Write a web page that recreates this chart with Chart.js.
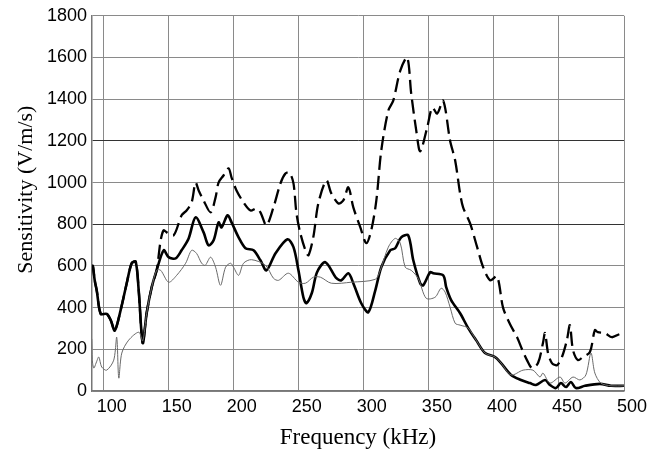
<!DOCTYPE html>
<html>
<head>
<meta charset="utf-8">
<script src="https://cdn.jsdelivr.net/npm/chart.js@4/dist/chart.umd.min.js"></script>
<style>
html,body{margin:0;padding:0;background:#fff;}
#wrap{width:647px;height:455px;}
</style>
</head>
<body>
<div id="wrap"><canvas id="c" width="647" height="455"></canvas></div>
<script>
// Tick labels
const xTicks = [100,150,200,250,300,350,400,450,500];
const yTicks = [0,200,400,600,800,1000,1200,1400,1600,1800];

// Thick solid series
const thickFreq = [90.8,91.6,93.1,94.7,97.7,102.3,105.4,108.5,113.1,117.7,121.5,124.6,126.9,130.0,133.0,136.9,140.7,146.1,149.9,155.3,159.9,165.3,170.6,176.8,180.6,184.5,188.3,190.6,195.2,198.3,203.7,209.0,215.2,220.5,225.1,232.0,241.3,245.9,249.7,253.5,255.8,260,264,270.4,278.9,282.7,288.1,291.9,298.0,303.4,308.8,313.4,320.3,324.1,328.7,334.1,338.0,343.3,345.6,351.0,353.3,361.0,363.3,367.1,374.0,380.2,386.3,393.2,400.9,405.5,413.2,420.8,427.7,432.3,439.3,443.1,447.7,451.5,455.4,459.2,463.0,470,481.5,490,500];
const thickVal = [580,600,530,480,370,370,340,290,390,517,613,620,483,230,373,498,579,675,642,636,675,732,833,761,699,723,809,785,843,809,737,685,675,627,579,660,728,690,579,450,421,470,570,618,541,531,565,517,421,378,483,594,675,685,737,747,627,517,507,570,565,555,498,436,373,302,244,182,163,134,77,53,38,29,53,29,14,38,19,43,14,25,34,25,25];

// Thin solid series
const thinFreq = [90.8,91.2,92.4,94.5,96.2,98.5,102.3,107.7,110.0,111.6,113.9,119.2,127.0,130.0,133.0,136.9,140.7,143.8,149.9,156.1,163.0,167.6,171.4,175.3,178,182.2,186.0,189.8,193.7,197.5,199.8,203.7,207.5,213.6,224.4,230.5,234.4,242.0,249.7,255.1,261.2,266.6,275.0,290.4,308.8,312.6,318.8,324.1,328.0,331.8,336.4,341.8,347.9,354.8,359.4,362.5,366.3,370.2,374.0,380.2,386.3,393.2,400.9,405.5,413.2,422.4,430.0,435.4,437.7,443.1,450.8,454.6,460.8,466.1,470.7,474.6,477.6,482.2,490,500];
const thinVal = [250,150,110,140,163,115,100,148,258,62,182,244,282,240,373,498,579,579,522,555,613,675,660,613,603,642,594,507,594,613,594,555,613,630,603,541,531,565,522,517,546,546,517,522,536,579,690,732,709,594,579,540,445,450,493,474,402,325,316,302,244,182,163,134,77,100,100,67,86,38,67,38,67,53,77,182,86,38,25,25];

// Dashed series
const dashFreq = [90.8,91.6,93.1,94.7,97.7,102.3,105.4,108.5,113.1,117.7,121.5,124.6,126.9,130.0,133.0,136.9,140.7,143.8,146.1,148.4,153.8,159.9,163.7,167.6,170.6,173.0,176.8,182.2,186.0,188.3,192.1,196.0,198.3,202.1,207.5,212.9,217.5,220.5,225.1,230.5,235.9,239.7,242.8,245.9,248.2,251.2,255.1,257.4,261.2,265.0,271.2,275.0,280.4,284.2,288.1,291.9,297.3,301.9,305.7,309.6,313.4,318.8,322.6,328.0,333.3,336.4,340.3,343.3,348.7,352.6,356.4,361.0,366.3,370.2,374.0,376.3,381.7,387.1,391.7,397.1,402.4,407.0,412.4,417.8,421.6,425.4,429.3,433.9,437.7,439.3,441.6,444.6,448.5,452.3,456.1,458.4,460.8,464.6,468.4,473.8,477.6,479.9,485.3,490.7,496.8,500];
const dashVal = [580,600,530,480,370,370,340,290,390,517,613,620,483,230,373,498,579,723,771,761,747,843,866,905,1000,962,914,857,929,1000,1034,1068,1024,962,905,866,876,857,795,881,996,1043,1048,996,852,756,675,651,740,900,1010,948,900,914,977,881,785,709,771,914,1154,1345,1393,1537,1600,1427,1249,1150,1264,1360,1331,1393,1201,1106,948,881,804,690,594,531,550,400,320,258,200,148,110,134,230,278,182,134,124,163,244,316,196,148,163,187,292,282,278,258,273,270];

const pts = (xs, ys) => xs.map((x, i) => ({x: x, y: ys[i]}));

const ctx = document.getElementById('c').getContext('2d');
new Chart(ctx, {
  type: 'line',
  data: {
    datasets: [
      {label: 'thin', data: pts(thinFreq, thinVal), borderColor: '#6a6a6a', borderWidth: 1, pointRadius: 0, tension: 0.3, fill: false},
      {label: 'dashed', data: pts(dashFreq, dashVal), borderColor: '#000', borderWidth: 2.3, borderDash: [14, 6], pointRadius: 0, tension: 0.3, fill: false},
      {label: 'thick', data: pts(thickFreq, thickVal), borderColor: '#000', borderWidth: 2.6, pointRadius: 0, tension: 0.3, fill: false}
    ]
  },
  options: {
    responsive: false,
    animation: false,
    layout: {padding: {left: 0, right: 23, top: 15, bottom: 0}},
    plugins: {legend: {display: false}, tooltip: {enabled: false}},
    scales: {
      x: {
        type: 'linear', min: 91, max: 500,
        afterBuildTicks: s => { s.ticks = xTicks.map(v => ({value: v})); },
        afterFit: s => { s.height = 64; },
        grid: {color: '#8a8a8a', lineWidth: 1, drawTicks: false},
        border: {color: '#777', width: 1.5},
        ticks: {color: '#000', font: {family: 'Liberation Sans, Arial, sans-serif', size: 18}, padding: 5, labelOffset: 8, maxRotation: 0, callback: v => String(v)},
        title: {display: true, text: 'Frequency (kHz)', color: '#000', font: {family: 'Liberation Serif, Times New Roman, serif', size: 23}, padding: {top: 0, bottom: 3}}
      },
      y: {
        min: 0, max: 1800,
        afterBuildTicks: s => { s.ticks = yTicks.map(v => ({value: v})); },
        afterFit: s => { s.width = 92; },
        grid: {color: c => (c.tick && (c.tick.value === 800 || c.tick.value === 1200)) ? '#333' : '#8a8a8a', lineWidth: 1, drawTicks: false},
        border: {color: '#777', width: 1.5},
        ticks: {color: '#000', font: {family: 'Liberation Sans, Arial, sans-serif', size: 18}, padding: 5, callback: v => String(v)},
        title: {display: true, text: '     Sensitivity (V/m/s)', color: '#000', font: {family: 'Liberation Serif, Times New Roman, serif', size: 22}, padding: {top: 13, bottom: 0}}
      }
    }
  }
});
</script>
</body>
</html>
